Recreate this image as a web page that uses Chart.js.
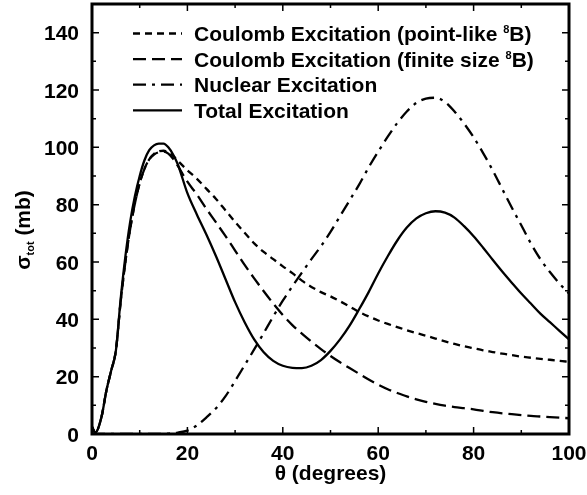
<!DOCTYPE html>
<html>
<head>
<meta charset="utf-8">
<script src="https://cdn.jsdelivr.net/npm/chart.js@4.4.1/dist/chart.umd.min.js"></script>
<style>
html, body { margin: 0; padding: 0; background: #fff; }
canvas { display: block; }
</style>
</head>
<body>
<canvas id="graph" width="587" height="495"></canvas>
<script>
// scattering angle (degrees)
var theta = [0, 0.7, 2, 3, 4, 5, 6, 7, 8, 9, 10, 11, 12, 13, 14, 15, 16, 17, 18,
  20, 22, 24, 26, 28, 30, 32, 34, 36, 38, 40, 42, 44, 46, 48, 50, 52, 54, 56, 58, 60,
  62, 64, 66, 68, 70, 72, 74, 76, 78, 80, 82, 84, 86, 88, 90, 92, 94, 96, 98, 100];

// cross sections in mb
var pointLike = [2.5, 0.5, 6, 15, 22, 29, 46, 60, 71.5, 80.5, 87.5, 92.5, 95.8, 97.7, 98.6, 98.8, 98.3, 97, 95.3,
  92, 89, 85.5, 82, 78, 74, 70.2, 66.5, 63.5, 61, 58.5, 56.1, 53.5, 51.3, 49.5, 48, 46.3, 44.5, 42.6, 41, 39.6,
  38.4, 37.3, 36.2, 35.2, 34.3, 33.3, 32.3, 31.4, 30.6, 29.9, 29.2, 28.6, 28, 27.5, 27, 26.6, 26.2, 25.9, 25.5, 25.2];

var finiteSize = [2.5, 0.5, 6, 15, 22, 29, 46, 60, 71.5, 80.5, 87.5, 92.5, 95.8, 97.5, 98.3, 98.5, 97.8, 96, 93.5,
  88, 83.5, 78.5, 73.8, 69, 64, 59, 54.3, 49.8, 45.5, 41.5, 38, 35, 32.2, 29.6, 27.2, 25, 23, 21, 19, 17.2,
  15.6, 14.3, 13.1, 12.1, 11.2, 10.5, 9.9, 9.4, 9, 8.6, 8.1, 7.6, 7.2, 6.9, 6.6, 6.3, 6.1, 5.9, 5.7, 5.5];

var nuclear = [0, 0, 0, 0, 0, 0, 0, 0, 0, 0, 0, 0, 0, 0, 0, 0.05, 0.15, 0.3, 0.5,
  1.2, 3, 5.8, 9, 13.2, 18.5, 24, 29.5, 35.2, 41, 46.5, 51.5, 56.3, 61, 65.5, 70.5, 76, 81.5, 87, 93, 98.5,
  103.7, 108.5, 112.5, 115.5, 117, 117.3, 115.8, 112.5, 108.3, 103.5, 98, 92, 85.5, 79, 72.8, 66.5, 61, 56.5, 52.5, 49];

var total = [2.5, 0.5, 6, 15, 22, 29, 47, 62, 74, 83, 90, 95.5, 99, 100.7, 101.3, 101.3, 100, 97.5, 94,
  84, 76.5, 69.5, 62, 54, 46, 39, 33, 28.5, 25.5, 23.8, 23.1, 23, 23.8, 25.8, 29, 33, 37.8, 43.5, 49.5, 56,
  62, 67.5, 72, 75.2, 77, 77.7, 77.2, 75.5, 72.5, 69, 65, 60.8, 56.7, 52.8, 49, 45.5, 42, 39, 36, 33];

var xTicks = [0, 20, 40, 60, 80, 100];
var yTicks = [0, 20, 40, 60, 80, 100, 120, 140];

var seriesLabels = [
  "Coulomb Excitation (point-like ^8B)",
  "Coulomb Excitation (finite size ^8B)",
  "Nuclear Excitation",
  "Total Excitation"
];

var FONT = "'Liberation Sans', Arial, Helvetica, sans-serif";
var BIG = "bold 21px " + FONT;

function pts(values) {
  return theta.map(function (t, i) { return { x: t, y: values[i] }; });
}

function line(label, values, dash) {
  return {
    label: label,
    data: pts(values),
    borderColor: "#000",
    borderWidth: 2.3,
    borderDash: dash,
    pointRadius: 0,
    fill: false,
    cubicInterpolationMode: "monotone"
  };
}

// inner tick marks, tick labels, frame, legend and axis titles
var decorations = {
  id: "decorations",
  afterDraw: function (chart) {
    var ctx = chart.ctx;
    var a = chart.chartArea;
    var xs = chart.scales.x, ys = chart.scales.y;
    ctx.save();
    ctx.strokeStyle = "#000";
    ctx.fillStyle = "#000";
    ctx.lineWidth = 1.5;
    ctx.setLineDash([]);
    ctx.beginPath();
    for (var v = 10; v < 100; v += 10) {
      var px = xs.getPixelForValue(v);
      var len = v % 20 === 0 ? 7 : 4;
      ctx.moveTo(px, a.bottom); ctx.lineTo(px, a.bottom - len);
      ctx.moveTo(px, a.top); ctx.lineTo(px, a.top + len);
    }
    for (var w = 10; w < 150; w += 10) {
      var py = ys.getPixelForValue(w);
      var l2 = w % 20 === 0 ? 7 : 4;
      ctx.moveTo(a.left, py); ctx.lineTo(a.left + l2, py);
      ctx.moveTo(a.right, py); ctx.lineTo(a.right - l2, py);
    }
    ctx.stroke();

    ctx.lineWidth = 3;
    ctx.strokeRect(a.left, a.top, a.right - a.left, a.bottom - a.top);

    // tick labels
    ctx.font = BIG;
    ctx.textAlign = "center";
    ctx.textBaseline = "alphabetic";
    xTicks.forEach(function (t) {
      ctx.fillText(String(t), xs.getPixelForValue(t), a.bottom + 26);
    });
    ctx.textAlign = "right";
    yTicks.forEach(function (t) {
      ctx.fillText(String(t), a.left - 13, ys.getPixelForValue(t) + 7.5);
    });

    // legend
    ctx.textAlign = "left";
    chart.data.datasets.forEach(function (ds, i) {
      var y = a.top + 29.5 + i * 25.6;
      ctx.lineWidth = ds.borderWidth;
      ctx.setLineDash(ds.borderDash || []);
      ctx.beginPath();
      ctx.moveTo(a.left + 41, y);
      ctx.lineTo(a.left + 90, y);
      ctx.stroke();
      ctx.setLineDash([]);
      var x = a.left + 102;
      var parts = ds.label.split(/\^(\d+)/);
      parts.forEach(function (p, k) {
        if (k % 2 === 1) {
          ctx.font = "bold 11px " + FONT;
          ctx.fillText(p, x, y - 0.5);
        } else {
          ctx.font = BIG;
          ctx.fillText(p, x, y + 7.5);
        }
        x += ctx.measureText(p).width;
      });
    });

    // x axis title
    ctx.font = BIG;
    ctx.textAlign = "center";
    ctx.fillText("\u03b8 (degrees)", (a.left + a.right) / 2, 480);

    // y axis title with subscript
    ctx.textAlign = "left";
    ctx.translate(30, 230);
    ctx.rotate(-Math.PI / 2);
    var pieces = [["\u03c3", 21, 0], ["tot", 11, 4], [" (mb)", 21, 0]];
    var width = 0;
    pieces.forEach(function (p) {
      ctx.font = "bold " + p[1] + "px " + FONT;
      width += ctx.measureText(p[0]).width;
    });
    var cx = -width / 2;
    pieces.forEach(function (p) {
      ctx.font = "bold " + p[1] + "px " + FONT;
      ctx.fillText(p[0], cx, p[2]);
      cx += ctx.measureText(p[0]).width;
    });
    ctx.restore();
  }
};

var ctx = document.getElementById("graph").getContext("2d");

var chart = new Chart(ctx, {
  type: "line",
  data: {
    datasets: [
      line(seriesLabels[0], pointLike, [7, 5]),
      line(seriesLabels[1], finiteSize, [13, 6]),
      line(seriesLabels[2], nuclear, [13, 6, 3, 6]),
      line(seriesLabels[3], total, [])
    ]
  },
  options: {
    responsive: false,
    animation: false,
    devicePixelRatio: 1,
    layout: { padding: { top: 4, right: 18, left: 0, bottom: 0 } },
    plugins: { legend: { display: false }, tooltip: { enabled: false } },
    scales: {
      x: {
        type: "linear",
        min: 0,
        max: 100,
        afterBuildTicks: function (s) { s.ticks = xTicks.map(function (v) { return { value: v }; }); },
        afterFit: function (s) { s.height = 61; },
        grid: { display: false },
        border: { display: false },
        ticks: { display: false }
      },
      y: {
        type: "linear",
        min: 0,
        max: 150,
        afterBuildTicks: function (s) { s.ticks = yTicks.map(function (v) { return { value: v }; }); },
        afterFit: function (s) { s.width = 92; },
        grid: { display: false },
        border: { display: false },
        ticks: { display: false }
      }
    }
  },
  plugins: [decorations]
});
</script>
</body>
</html>
